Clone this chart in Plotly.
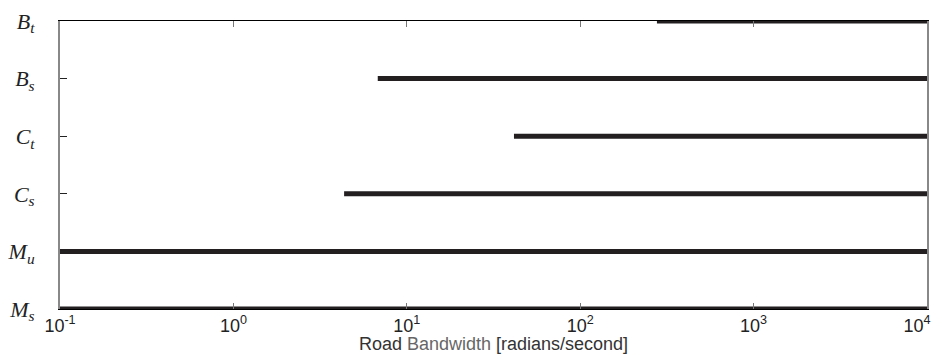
import plotly.graph_objects as go

categories = ["M_s", "M_u", "C_s", "C_t", "B_s", "B_t"]
tick_labels = ["M<sub>s</sub>", "M<sub>u</sub>", "C<sub>s</sub>", "C<sub>t</sub>", "B<sub>s</sub>", "B<sub>t</sub>"]
start_bw = [0.1, 0.1, 4.35, 41.5, 6.8, 277]
end_bw = [1e4, 1e4, 1e4, 1e4, 1e4, 1e4]
x_tickvals = [0.1, 1, 10, 100, 1000, 10000]
x_ticktext = ["10<sup>-1</sup>", "10<sup>0</sup>", "10<sup>1</sup>", "10<sup>2</sup>", "10<sup>3</sup>",
              "10<sup>4</sup>\u00a0\u00a0\u00a0\u00a0"]

fig = go.Figure()
for i, (s, e) in enumerate(zip(start_bw, end_bw)):
    fig.add_trace(go.Scatter(
        x=[s, e], y=[i, i], mode="lines",
        line=dict(color="#231f20", width=5),
        cliponaxis=False, showlegend=False, hoverinfo="skip",
        name=categories[i],
    ))

# page body has an 8px default margin; compensate so the plot sits where the reference has it
fig.update_layout(
    width=927, height=346,
    margin=dict(l=52, r=8, t=13, b=45),
    plot_bgcolor="white", paper_bgcolor="white",
    showlegend=False,
    xaxis=dict(
        type="log", range=[-1, 4], automargin=False,
        tickvals=x_tickvals, ticktext=x_ticktext,
        ticklabeloverflow="allow",
        ticks="inside", ticklen=6, tickcolor="#777", tickwidth=1,
        showline=True, linecolor="black", linewidth=1, mirror="ticks",
        showgrid=False, zeroline=False,
        tickfont=dict(family="Liberation Sans, Arial", size=18, color="#222"),
        title=dict(text="Road <span style='color:#666'>Bandwidth</span> [radians/second]",
                   font=dict(family="Liberation Sans, Arial", size=18, color="#333"),
                   standoff=5),
    ),
    yaxis=dict(
        range=[0, 5], automargin=False,
        tickvals=list(range(len(categories))), ticktext=tick_labels,
        ticklabeloverflow="allow",
        ticks="inside", ticklen=7, tickcolor="#222", tickwidth=1,
        showline=True, linecolor="#888", linewidth=2, mirror=True,
        showgrid=False, zeroline=False,
        ticklabelstandoff=19,
        tickfont=dict(family="Liberation Serif, Times New Roman", size=22, color="#222", style="italic"),
    ),
)

fig.write_html("out.html")
